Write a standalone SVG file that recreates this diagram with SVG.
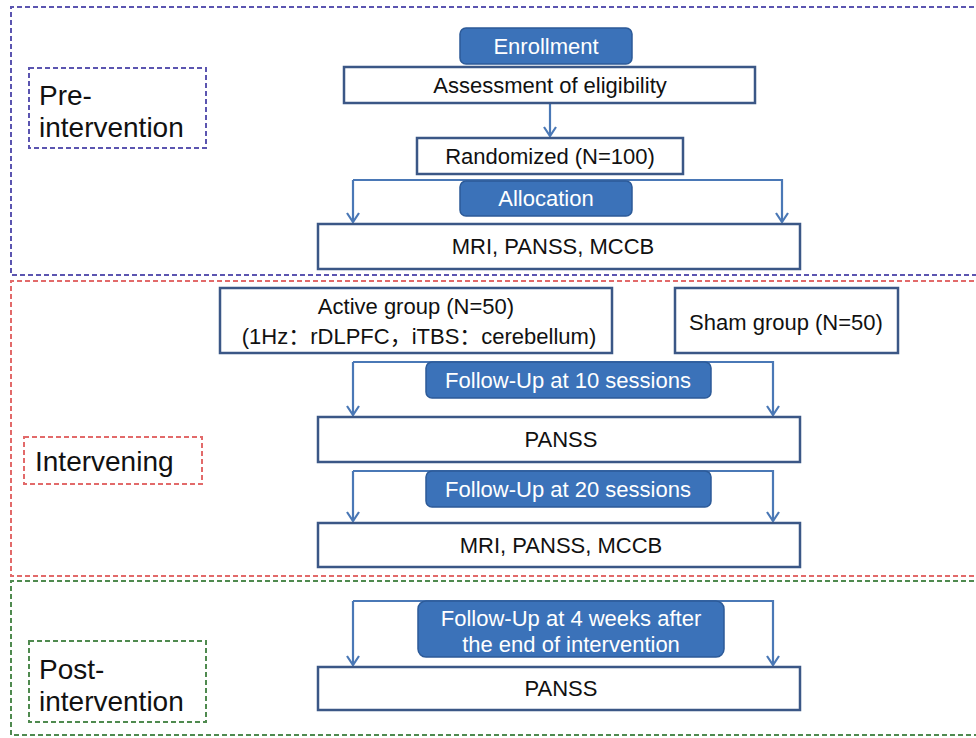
<svg xmlns="http://www.w3.org/2000/svg" width="976" height="738" viewBox="0 0 976 738">
<style>
text{font-family:"Liberation Sans",Arial,"Noto Sans CJK SC",sans-serif;}
.t{font-size:22px;fill:#111;text-anchor:middle;}
.w{font-size:22px;fill:#fff;text-anchor:middle;}
.lab{font-size:28px;fill:#111;}
.box{fill:#fff;stroke:#3b5786;stroke-width:2.5;}
.bb{fill:#3b72b9;stroke:#2c5a98;stroke-width:1.5;}
.conn{fill:none;stroke:#4a78b6;stroke-width:2.2;marker-end:url(#ah);}
.rp{fill:none;stroke:#5b55b0;stroke-width:2;stroke-dasharray:5 3;}
.rr{fill:none;stroke:#e26a6a;stroke-width:2;stroke-dasharray:5 3;}
.rg{fill:none;stroke:#4f8a4f;stroke-width:2;stroke-dasharray:5 3;}
</style>
<defs>
<marker id="ah" viewBox="0 0 12 14" refX="10" refY="7" markerWidth="12" markerHeight="14" markerUnits="userSpaceOnUse" orient="auto">
<path d="M1,1 L10,7 L1,13" fill="none" stroke="#4a78b6" stroke-width="2.2"/>
</marker>
</defs>
<rect width="976" height="738" fill="#fff"/>
<g id="regions">
<path class="rp" d="M990,7 H11 V275 H990"/>
<path class="rr" d="M990,281 H11 V576 H990"/>
<path class="rg" d="M990,581 H11 V735 H990"/>
</g>
<g id="connectors">
<path class="conn" d="M550,104 V136"/>
<path class="conn" d="M353,180 V222"/>
<path class="conn" d="M353,180 H782 V222"/>
<path class="conn" d="M353,362 V415"/>
<path class="conn" d="M353,362 H773 V415"/>
<path class="conn" d="M353,471 V521"/>
<path class="conn" d="M353,471 H773 V521"/>
<path class="conn" d="M353,601 V665"/>
<path class="conn" d="M353,601 H773 V665"/>
</g>
<g id="label-pre">
<rect x="29" y="68" width="177" height="80" class="rp"/>
<text class="lab" x="39" y="105">Pre-</text>
<text class="lab" x="39" y="137">intervention</text>
</g>
<g id="label-intervening">
<rect x="24" y="437" width="178" height="47" class="rr"/>
<text class="lab" x="35" y="471">Intervening</text>
</g>
<g id="label-post">
<rect x="29" y="641" width="177" height="81" class="rg"/>
<text class="lab" x="39" y="679">Post-</text>
<text class="lab" x="39" y="711">intervention</text>
</g>
<g id="enrollment">
<rect x="460" y="28" width="172" height="36" rx="6" class="bb"/>
<text class="w" x="546" y="54">Enrollment</text>
</g>
<g id="assessment">
<rect x="344" y="67" width="411" height="36" class="box"/>
<text class="t" x="550" y="93">Assessment of eligibility</text>
</g>
<g id="randomized">
<rect x="417" y="138" width="266" height="36" class="box"/>
<text class="t" x="550" y="164">Randomized (N=100)</text>
</g>
<g id="allocation">
<rect x="460" y="181" width="172" height="35" rx="6" class="bb"/>
<text class="w" x="546" y="206">Allocation</text>
</g>
<g id="baseline">
<rect x="318" y="224" width="482" height="45" class="box"/>
<text class="t" x="553" y="254">MRI, PANSS, MCCB</text>
</g>
<g id="active">
<rect x="220" y="288" width="392" height="65" class="box"/>
<text class="t" x="416" y="314">Active group (N=50)</text>
<text class="t" x="419" y="344">(1Hz：rDLPFC，iTBS：cerebellum)</text>
</g>
<g id="sham">
<rect x="675" y="288" width="223" height="65" class="box"/>
<text class="t" x="786" y="330">Sham group (N=50)</text>
</g>
<g id="fu10">
<rect x="426" y="362" width="285" height="36" rx="6" class="bb"/>
<text class="w" x="568" y="388">Follow-Up at 10 sessions</text>
</g>
<g id="panss1">
<rect x="318" y="417" width="482" height="45" class="box"/>
<text class="t" x="561" y="447">PANSS</text>
</g>
<g id="fu20">
<rect x="426" y="471" width="285" height="36" rx="6" class="bb"/>
<text class="w" x="568" y="497">Follow-Up at 20 sessions</text>
</g>
<g id="final">
<rect x="318" y="523" width="482" height="44" class="box"/>
<text class="t" x="561" y="553">MRI, PANSS, MCCB</text>
</g>
<g id="fu4w">
<rect x="418" y="601" width="306" height="56" rx="8" class="bb"/>
<text class="w" x="571" y="626">Follow-Up at 4 weeks after</text>
<text class="w" x="571" y="652">the end of intervention</text>
</g>
<g id="panss2">
<rect x="318" y="667" width="482" height="43" class="box"/>
<text class="t" x="561" y="696">PANSS</text>
</g>
</svg>
